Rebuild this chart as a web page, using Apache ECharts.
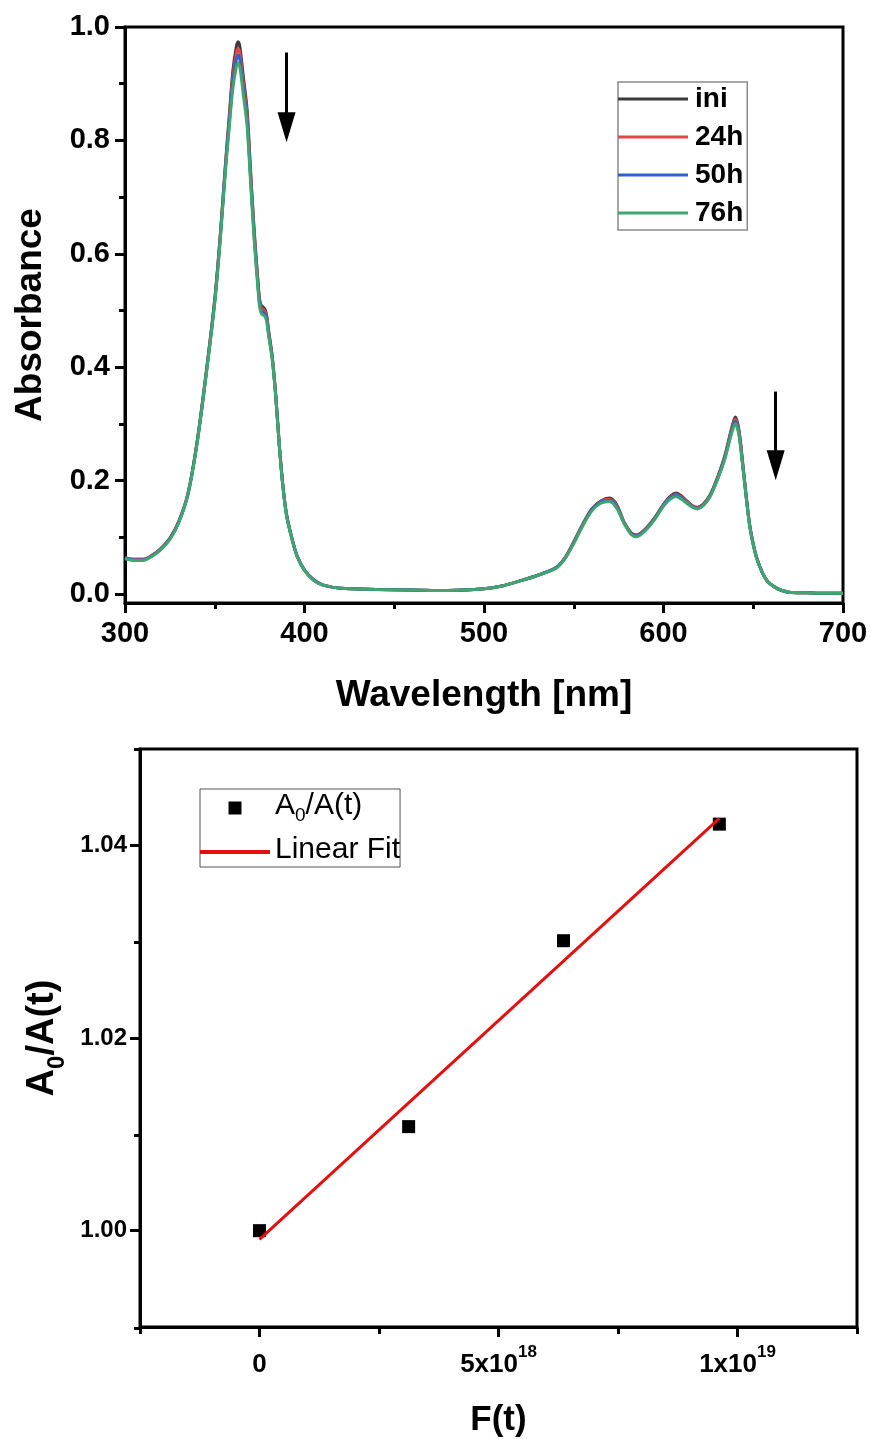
<!DOCTYPE html>
<html>
<head>
<meta charset="utf-8">
<script src="https://cdn.jsdelivr.net/npm/echarts@6/dist/echarts.min.js"></script>
<style>
html,body{margin:0;padding:0;background:#fff;}
#c{width:871px;height:1439px;}
</style>
</head>
<body>
<div id="c"></div>
<script>
// ---------- Top panel: UV-Vis spectra ----------
const wavelength = [
  300,305,310,315,320,325,330,335,340,345,
  350,353,356,358,360,362,363,364,366,368,
  370,372,374,375,376,377,378,379,380,382,
  384,386,388,390,393,396,400,405,410,420,
  440,460,480,500,510,520,530,540,545,550,
  555,560,565,570,574,578,582,585,590,595,
  600,604,607,610,613,616,619,622,626,630,
  634,638,640,642,644,646,648,650,652,655,
  658,662,666,670,680,690,700
];
const absIni = [
  0.064,0.061,0.061,0.068,0.080,0.098,0.128,0.176,0.265,0.385,
  0.520,0.630,0.760,0.840,0.920,0.965,0.974,0.965,0.910,0.855,
  0.745,0.640,0.555,0.520,0.508,0.506,0.502,0.490,0.465,0.420,
  0.350,0.262,0.190,0.140,0.098,0.066,0.042,0.025,0.016,0.010,
  0.008,0.007,0.006,0.009,0.014,0.023,0.033,0.046,0.063,0.092,
  0.123,0.150,0.164,0.169,0.157,0.127,0.108,0.104,0.115,0.134,
  0.158,0.173,0.178,0.173,0.164,0.156,0.153,0.158,0.175,0.205,
  0.242,0.293,0.312,0.290,0.235,0.175,0.122,0.088,0.063,0.038,
  0.022,0.012,0.006,0.003,0.002,0.001,0.001
];
const abs24h = [
  0.064,0.061,0.061,0.068,0.080,0.098,0.128,0.176,0.264,0.384,
  0.518,0.628,0.757,0.834,0.910,0.953,0.962,0.953,0.899,0.846,
  0.738,0.635,0.551,0.516,0.504,0.502,0.498,0.487,0.462,0.418,
  0.349,0.261,0.190,0.140,0.098,0.066,0.042,0.025,0.016,0.010,
  0.008,0.007,0.006,0.009,0.014,0.023,0.033,0.046,0.063,0.091,
  0.122,0.149,0.163,0.167,0.155,0.126,0.107,0.103,0.114,0.133,
  0.157,0.171,0.176,0.171,0.163,0.155,0.152,0.157,0.174,0.204,
  0.240,0.290,0.308,0.287,0.233,0.174,0.121,0.088,0.063,0.038,
  0.022,0.012,0.006,0.003,0.002,0.001,0.001
];
const abs50h = [
  0.063,0.060,0.060,0.067,0.079,0.097,0.127,0.175,0.263,0.382,
  0.516,0.625,0.753,0.828,0.900,0.942,0.950,0.942,0.889,0.836,
  0.731,0.629,0.546,0.511,0.499,0.497,0.494,0.483,0.459,0.416,
  0.348,0.260,0.189,0.139,0.097,0.066,0.042,0.025,0.016,0.010,
  0.008,0.007,0.006,0.009,0.014,0.023,0.033,0.046,0.062,0.090,
  0.121,0.148,0.162,0.165,0.153,0.125,0.106,0.102,0.113,0.132,
  0.156,0.170,0.174,0.169,0.161,0.154,0.151,0.156,0.173,0.202,
  0.238,0.287,0.304,0.284,0.231,0.173,0.121,0.087,0.062,0.038,
  0.022,0.012,0.006,0.003,0.002,0.001,0.001
];
const abs76h = [
  0.062,0.059,0.059,0.066,0.078,0.096,0.126,0.174,0.262,0.380,
  0.513,0.621,0.748,0.820,0.889,0.929,0.936,0.929,0.878,0.826,
  0.724,0.623,0.541,0.506,0.494,0.492,0.489,0.479,0.456,0.414,
  0.347,0.259,0.188,0.138,0.097,0.065,0.041,0.024,0.016,0.010,
  0.008,0.007,0.006,0.009,0.014,0.023,0.033,0.045,0.062,0.089,
  0.120,0.146,0.160,0.163,0.151,0.125,0.105,0.101,0.112,0.131,
  0.155,0.168,0.172,0.167,0.160,0.153,0.150,0.155,0.172,0.201,
  0.236,0.284,0.300,0.281,0.229,0.172,0.120,0.087,0.062,0.038,
  0.022,0.012,0.006,0.003,0.002,0.001,0.001
];
const spectraNames = ['ini','24h','50h','76h'];
const absTickLabels = [0, 0.2, 0.4, 0.6, 0.8, 1.0];
const absMinorTicks = [0.1, 0.3, 0.5, 0.7, 0.9];
// arrows (wavelength, from, head centre)
const arrow1 = [390, 0.955, 0.823];
const arrow2 = [662.5, 0.357, 0.227];

// ---------- Bottom panel: A0/A(t) vs F(t) ----------
const Ft = [0, 3.12e18, 6.36e18, 9.62e18];
const ratio = [1.000, 1.0108, 1.0301, 1.0422];
const fitX = [0, 9.62e18];
const fitY = [0.9991, 1.0428];
const ftTickLabels = [0, 5e18, 1e19];
const ftMinorTicks = [-2.5e18, 2.5e18, 7.5e18, 1.25e19];
const ratioTickLabels = [1.00, 1.02, 1.04];
const ratioMinorTicks = [0.99, 1.01, 1.03, 1.05];

const FONT = '"Liberation Sans", Arial, sans-serif';
const BLACK = '#000';
const LINE_ICON = 'path://M0,0h70v3h-70z';
const FIT_ICON = 'path://M0,0h70v4h-70z';
const SQUARE_ICON = 'path://M0,0h10v10h-10z';

const chart = echarts.init(document.getElementById('c'), null, {renderer: 'canvas'});

const G0 = {left: 125, right: 28, top: 27, height: 576};
const G1 = {left: 140, right: 14, top: 749, height: 579};

function hiddenAxis(extra) {
  return Object.assign({
    type: 'value', show: true,
    axisLine: {show: false, onZero: false}, axisLabel: {show: false},
    splitLine: {show: false}, axisTick: {show: false}
  }, extra);
}

const tickStyle = {color: BLACK, width: 3};

const option = {
  animation: false,
  backgroundColor: '#fff',
  textStyle: {fontFamily: FONT},
  grid: [
    Object.assign({show: true, borderColor: BLACK, borderWidth: 3, containLabel: false}, G0),
    Object.assign({show: true, borderColor: BLACK, borderWidth: 3, containLabel: false}, G1),
    Object.assign({show: false, containLabel: false}, G0),
    Object.assign({show: false, containLabel: false}, G1)
  ],
  xAxis: [
    { // 0 wavelength
      gridIndex: 0, type: 'value', min: 300, max: 700, interval: 100,
      name: 'Wavelength [nm]', nameLocation: 'middle', nameGap: 74,
      nameTextStyle: {fontSize: 37, fontWeight: 'bold', color: BLACK, fontFamily: FONT},
      axisLine: {onZero: false, lineStyle: {color: BLACK, width: 3}},
      axisTick: {length: 10, lineStyle: tickStyle},
      minorTick: {show: true, splitNumber: 2, length: 6, lineStyle: tickStyle},
      axisLabel: {fontSize: 29, fontWeight: 'bold', color: BLACK, margin: 16, fontFamily: FONT},
      splitLine: {show: false}
    },
    { // 1 F(t)
      gridIndex: 1, type: 'value', min: -2.5e18, max: 1.25e19,
      name: 'F(t)', nameLocation: 'middle', nameGap: 76,
      nameTextStyle: {fontSize: 35, fontWeight: 'bold', color: BLACK, fontFamily: FONT},
      axisLine: {onZero: false, lineStyle: {color: BLACK, width: 3}},
      axisTick: {length: 10, lineStyle: tickStyle, customValues: ftTickLabels},
      axisLabel: {
        customValues: ftTickLabels, margin: 17, color: BLACK,
        formatter: function (v) {
          if (v === 0) return '{b|0}';
          const e = Math.floor(Math.log10(v) + 1e-9);
          const m = Math.round(v / Math.pow(10, e));
          return '{b|' + m + 'x10}{sup|' + e + '}';
        },
        rich: {
          b: {fontSize: 26, fontWeight: 'bold', color: BLACK, fontFamily: FONT, lineHeight: 34, verticalAlign: 'bottom'},
          sup: {fontSize: 17, fontWeight: 'bold', color: BLACK, fontFamily: FONT, lineHeight: 34, verticalAlign: 'top'}
        }
      },
      splitLine: {show: false}
    },
    hiddenAxis({gridIndex: 2, min: 300, max: 700}),
    hiddenAxis({gridIndex: 3, min: -2.5e18, max: 1.25e19,
      axisTick: {show: true, length: 6, lineStyle: tickStyle, customValues: ftMinorTicks}})
  ],
  yAxis: [
    { // 0 absorbance
      gridIndex: 0, type: 'value', min: -0.016, max: 1.0,
      name: 'Absorbance', nameLocation: 'middle', nameGap: 76, nameRotate: 90,
      nameTextStyle: {fontSize: 37, fontWeight: 'bold', color: BLACK, fontFamily: FONT},
      axisLine: {onZero: false, lineStyle: {color: BLACK, width: 3}},
      axisTick: {length: 10, lineStyle: tickStyle, customValues: absTickLabels},
      axisLabel: {customValues: absTickLabels, fontSize: 29, fontWeight: 'bold', color: BLACK, margin: 15,
        fontFamily: FONT, formatter: v => v.toFixed(1)},
      splitLine: {show: false}
    },
    { // 1 ratio
      gridIndex: 1, type: 'value', min: 0.99, max: 1.05,
      name: '{n|A}{s|0}{n|/A(t)}', nameLocation: 'middle', nameGap: 66, nameRotate: 90,
      nameTextStyle: {
        color: BLACK, fontFamily: FONT,
        rich: {
          n: {fontSize: 38, fontWeight: 'bold', color: BLACK, fontFamily: FONT, lineHeight: 46, verticalAlign: 'top'},
          s: {fontSize: 24, fontWeight: 'bold', color: BLACK, fontFamily: FONT, lineHeight: 46, verticalAlign: 'bottom'}
        }
      },
      axisLine: {onZero: false, lineStyle: {color: BLACK, width: 3}},
      axisTick: {length: 10, lineStyle: tickStyle, customValues: ratioTickLabels},
      axisLabel: {customValues: ratioTickLabels, fontSize: 24, fontWeight: 'bold', color: BLACK, margin: 13,
        fontFamily: FONT, formatter: v => v.toFixed(2)},
      splitLine: {show: false}
    },
    hiddenAxis({gridIndex: 2, min: -0.016, max: 1.0,
      axisTick: {show: true, length: 6, lineStyle: tickStyle, customValues: absMinorTicks}}),
    hiddenAxis({gridIndex: 3, min: 0.99, max: 1.05,
      axisTick: {show: true, length: 6, lineStyle: tickStyle, customValues: ratioMinorTicks}})
  ],
  legend: [
    {
      data: spectraNames.map(n => ({name: n, icon: LINE_ICON})),
      orient: 'vertical', left: 618, top: 82,
      itemWidth: 70, itemHeight: 14, itemGap: 8, symbolKeepAspect: true,
      padding: [2, 4, 2, 0],
      borderColor: '#8a8a8a', borderWidth: 1.5,
      textStyle: {fontSize: 28, fontWeight: 'bold', color: BLACK, fontFamily: FONT, lineHeight: 30, padding: [0, 0, 0, 2]}
    },
    {
      data: [{name: 'A0/A(t)', icon: SQUARE_ICON}, {name: 'Linear Fit', icon: FIT_ICON}],
      orient: 'vertical', left: 200, top: 789,
      itemWidth: 70, itemHeight: 13, itemGap: 10, symbolKeepAspect: true,
      padding: [2, 0, 2, 0],
      borderColor: '#555', borderWidth: 1,
      formatter: function (name) {
        if (name === 'A0/A(t)') return '{n|A}{s|0}{n|/A(t)}';
        return '{n|' + name + '}';
      },
      textStyle: {
        color: BLACK, fontFamily: FONT,
        rich: {
          n: {fontSize: 30, color: BLACK, fontFamily: FONT, lineHeight: 34, verticalAlign: 'top'},
          s: {fontSize: 19, color: BLACK, fontFamily: FONT, lineHeight: 34, verticalAlign: 'bottom'}
        }
      }
    }
  ],
  series: [
    {name: 'ini', type: 'line', xAxisIndex: 0, yAxisIndex: 0, symbol: 'none', smooth: 0.3,
      color: '#3b3b3b', lineStyle: {width: 3, color: '#3b3b3b'},
      data: wavelength.map((w, i) => [w, absIni[i]])},
    {name: '24h', type: 'line', xAxisIndex: 0, yAxisIndex: 0, symbol: 'none', smooth: 0.3,
      color: '#e2474b', lineStyle: {width: 3, color: '#e2474b'},
      data: wavelength.map((w, i) => [w, abs24h[i]])},
    {name: '50h', type: 'line', xAxisIndex: 0, yAxisIndex: 0, symbol: 'none', smooth: 0.3,
      color: '#2c63c8', lineStyle: {width: 3, color: '#2c63c8'},
      data: wavelength.map((w, i) => [w, abs50h[i]])},
    {name: '76h', type: 'line', xAxisIndex: 0, yAxisIndex: 0, symbol: 'none', smooth: 0.3,
      color: '#3fa670', lineStyle: {width: 3, color: '#3fa670'},
      data: wavelength.map((w, i) => [w, abs76h[i]]),
      markLine: {
        silent: true, animation: false,
        symbol: ['none', 'triangle'], symbolSize: [18, 30],
        lineStyle: {color: BLACK, width: 3, type: 'solid'},
        itemStyle: {color: BLACK},
        label: {show: false},
        emphasis: {disabled: true},
        data: [
          [{coord: [arrow1[0], arrow1[1]]}, {coord: [arrow1[0], arrow1[2]]}],
          [{coord: [arrow2[0], arrow2[1]]}, {coord: [arrow2[0], arrow2[2]]}]
        ]
      }},
    {name: 'Linear Fit', type: 'line', xAxisIndex: 1, yAxisIndex: 1, symbol: 'none',
      color: '#e41010', lineStyle: {width: 3, color: '#e41010'},
      data: fitX.map((x, i) => [x, fitY[i]])},
    {name: 'A0/A(t)', type: 'scatter', xAxisIndex: 1, yAxisIndex: 1, symbol: 'rect', symbolSize: 13,
      color: BLACK, itemStyle: {color: BLACK, opacity: 1},
      data: Ft.map((x, i) => [x, ratio[i]])}
  ]
};
chart.setOption(option);
</script>
</body>
</html>
